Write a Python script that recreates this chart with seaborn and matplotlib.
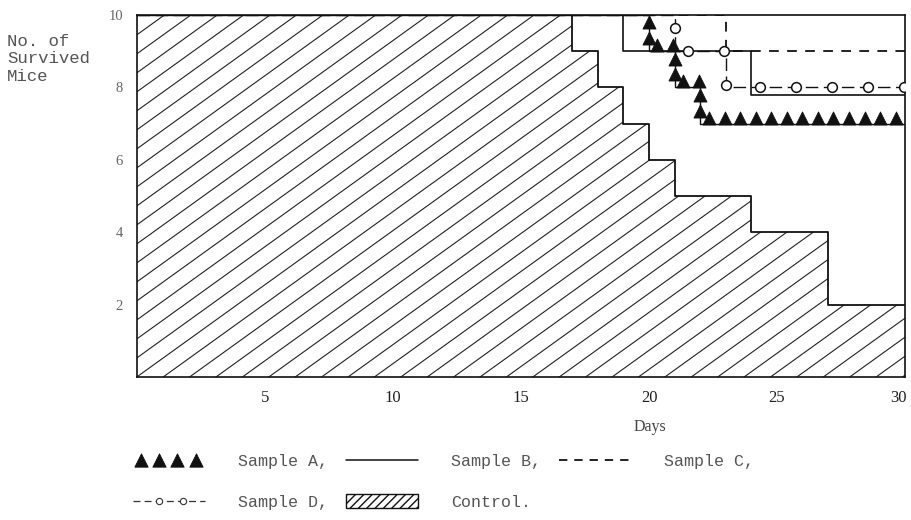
import numpy as np
import matplotlib
matplotlib.use("Agg")
import matplotlib.pyplot as plt
import matplotlib.colors as mcolors
import seaborn as sns
from matplotlib.lines import Line2D
from matplotlib.patches import Rectangle
from matplotlib.collections import LineCollection
from matplotlib.patheffects import AbstractPathEffect
from matplotlib.markers import MarkerStyle
from matplotlib.path import Path
from matplotlib.transforms import Affine2D, ScaledTranslation

# ---------------- data (survived mice, step changes by day) ----------------
control_days = [0, 17, 18, 19, 20, 21, 24, 27, 30]
control_alive = [10, 9, 8, 7, 6, 5, 4, 2, 2]

a_days = [0, 20, 21, 22, 30]
a_alive = [10, 9, 8, 7, 7]

b_days = [0, 19, 24, 30]
b_alive = [10, 9, 7.8, 7.8]

c_days = [0, 23, 30]
c_alive = [10, 9, 9]

d_days = [0, 21, 23, 30]
d_alive = [10, 9, 8, 8]

x_ticks = [5, 10, 15, 20, 25, 30]
y_ticks = [2, 4, 6, 8, 10]
series_labels = ["Sample A,", "Sample B,", "Sample C,", "Sample D,", "Control."]
x_label = "Days"
y_label = "No. of\nSurvived\nMice"


# ---------------- a line style drawn as a chain of markers ----------------
class MarkerChain(AbstractPathEffect):
    def __init__(self, marker, spacing, size, start=0.0, skip=0, dy=0.0,
                 face="black", edge="black", mew=0.9, draw_line=True):
        super().__init__()
        self.marker, self.spacing, self.size = marker, spacing, size
        self.start, self.skip, self.dy = start, skip, dy
        self.face, self.edge, self.mew = face, edge, mew
        self.draw_line = draw_line

    def draw_path(self, renderer, gc, tpath, affine, rgbFace=None):
        if self.draw_line:
            renderer.draw_path(gc, tpath, affine, rgbFace)
        verts = affine.transform(tpath.vertices)[self.skip:]
        if len(verts) < 2:
            return
        lens = np.hypot(*np.diff(verts, axis=0).T)
        cum = np.concatenate([[0.0], np.cumsum(lens)])
        step = renderer.points_to_pixels(self.spacing)
        dist = np.arange(renderer.points_to_pixels(self.start), cum[-1] + 0.5, step)
        pts = np.column_stack([np.interp(dist, cum, verts[:, 0]),
                               np.interp(dist, cum, verts[:, 1])
                               + renderer.points_to_pixels(self.dy)])
        ms = MarkerStyle(self.marker)
        mtrans = ms.get_transform() + Affine2D().scale(renderer.points_to_pixels(self.size))
        gc0 = renderer.new_gc()
        gc0.copy_properties(gc)
        gc0.set_dashes(0, None)
        gc0.set_linewidth(self.mew)
        gc0.set_foreground(self.edge)
        renderer.draw_markers(gc0, ms.get_path(), mtrans, Path(pts), Affine2D(),
                              mcolors.to_rgba(self.face))
        gc0.restore()


sns.set_style("white")
plt.rcParams["lines.scale_dashes"] = False
plt.rcParams["font.family"] = ["Liberation Serif", "DejaVu Serif"]

fig = plt.figure(figsize=(9.11, 5.2), dpi=100)
ax = fig.add_axes([137 / 911, 1 - 377 / 520, 768 / 911, 362 / 520])

ink = "#111111"

# ---- control: hatched step area ----
poly = ax.fill_between(control_days, control_alive, step="post",
                       facecolor="white", edgecolor="none", zorder=1)
clip_path = poly.get_paths()[0]
slope = 0.509
offs = np.arange(-slope * 30 - 1, 11, 0.525)
segs = [[(0, o), (30, o + slope * 30)] for o in offs]
hatch = LineCollection(segs, colors="#222222", linewidths=0.8, zorder=2)
ax.add_collection(hatch)
hatch.set_clip_path(clip_path, ax.transData)
sns.lineplot(x=control_days, y=control_alive, drawstyle="steps-post",
             color=ink, lw=1.3, ax=ax, zorder=3, legend=False)

# ---- samples ----
sns.lineplot(x=b_days, y=b_alive, drawstyle="steps-post", color=ink, lw=1.2,
             ax=ax, zorder=4, legend=False)
sns.lineplot(x=c_days, y=c_alive, drawstyle="steps-post", color=ink, lw=1.3,
             linestyle=(0, (7, 6)), ax=ax, zorder=4, legend=False)
sns.lineplot(x=d_days, y=d_alive, drawstyle="steps-post", color=ink, lw=1.0,
             linestyle=(0, (9, 4)), ax=ax, zorder=5, legend=False,
             path_effects=[MarkerChain("o", spacing=26, size=7, start=9.4, skip=1,
                                       face="white", edge=ink, mew=1.1)])
sns.lineplot(x=a_days, y=a_alive, drawstyle="steps-post", color=ink, lw=1.0,
             ax=ax, zorder=6, legend=False,
             path_effects=[MarkerChain("^", spacing=11.2, size=9.4, start=9.4, skip=1,
                                       dy=4.3, face=ink, edge=ink, mew=0.6)])

# ---- axes ----
ax.set_xlim(0, 30)
ax.set_ylim(0, 10)
ax.set_xticks(x_ticks)
ax.set_yticks(y_ticks)
ax.tick_params(axis="x", direction="in", length=4, width=1, pad=9,
               labelsize=12, labelcolor="#222222", colors=ink)
ax.tick_params(axis="y", direction="in", length=4, width=1, pad=10,
               labelsize=10.5, labelcolor="#666666", colors=ink)
last = ax.get_xticklabels()[-1]
last.set_transform(last.get_transform() + ScaledTranslation(-7 / 100, 0, fig.dpi_scale_trans))
for s in ax.spines.values():
    s.set_visible(True)
    s.set_color(ink)
    s.set_linewidth(1.2)
ax.set_xlabel(x_label, fontsize=11.5, color="#444444")
ax.xaxis.set_label_coords((650 - 137) / 768, (377 - 419) / 362)

fig.text(7 / 911, 1 - 34 / 520, y_label, ha="left", va="top",
         family=["Liberation Mono", "DejaVu Sans Mono"], fontsize=12.5,
         color="#555555", linespacing=1.2)

# ---- legend ----
h_a = Line2D([], [], color=ink, lw=0.6,
             path_effects=[MarkerChain("^", spacing=13, size=9.6, start=6,
                                       dy=0, face=ink, edge=ink, mew=0.6,
                                       draw_line=False)])
h_b = Line2D([], [], color=ink, lw=1.1)
h_c = Line2D([], [], color=ink, lw=1.3, linestyle=(0, (6, 5)))
h_d = Line2D([], [], color="#333333", lw=0.9, linestyle=(0, (5, 3)),
             path_effects=[MarkerChain("o", spacing=17, size=4.5, start=19,
                                       face="white", edge="#333333", mew=0.8)])
h_ctrl = Rectangle((0, 0), 1, 1, facecolor="white", edgecolor=ink,
                   hatch="////", lw=1.0)
handles = [h_a, h_d, h_b, h_ctrl, h_c]
labels = [series_labels[0], series_labels[3], series_labels[1],
          series_labels[4], series_labels[2]]
fig.legend(handles, labels, ncol=3, loc="upper left",
           bbox_to_anchor=(133 / 911, 1 - 454 / 520), frameon=False,
           prop={"family": ["Liberation Mono", "DejaVu Sans Mono"], "size": 12},
           labelcolor="#555555", handlelength=4.3, handleheight=0.85,
           handletextpad=2.0, columnspacing=1.08, labelspacing=1.5,
           borderpad=0, borderaxespad=0)

fig.savefig("out.png", dpi=100)
